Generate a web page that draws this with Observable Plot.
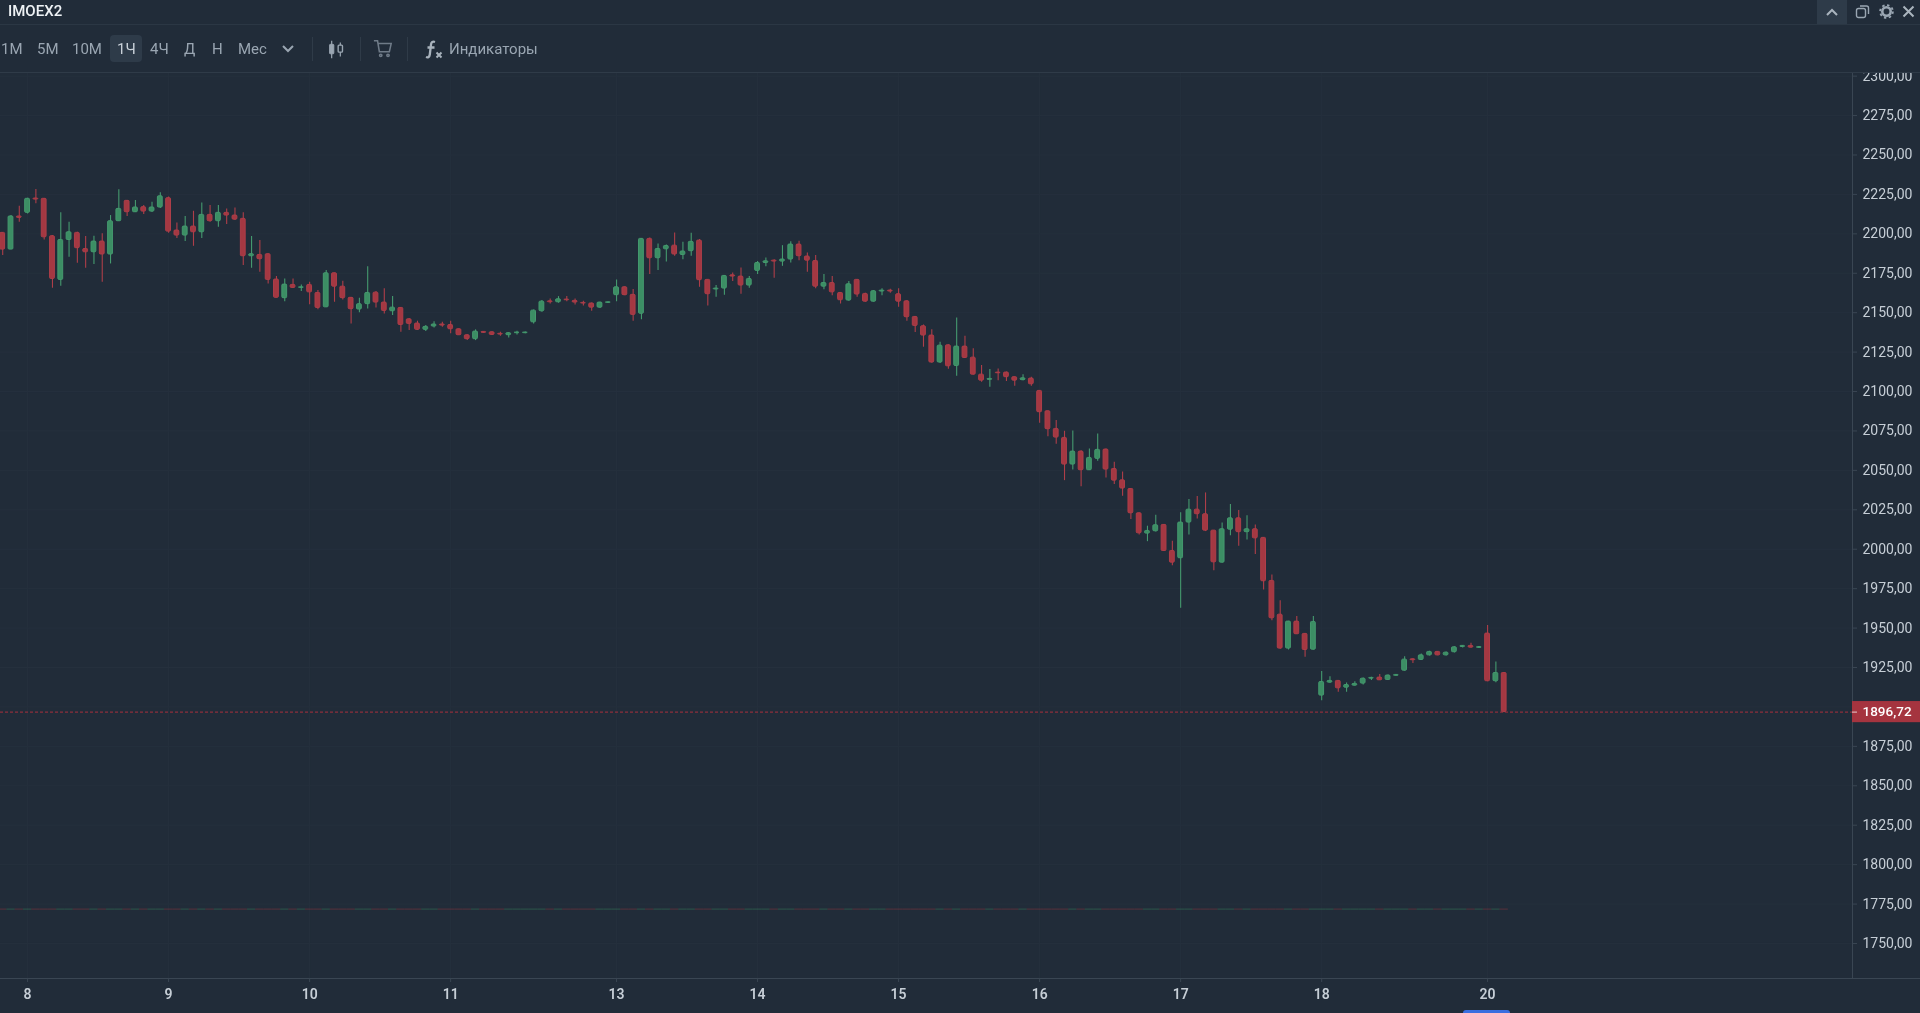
<!DOCTYPE html>
<html lang="ru">
<head>
<meta charset="utf-8">
<title>IMOEX2</title>
<script src="https://cdn.jsdelivr.net/npm/d3@7"></script>
<script src="https://cdn.jsdelivr.net/npm/@observablehq/plot@0.6"></script>
<style>
  html, body { margin: 0; padding: 0; width: 1920px; height: 1013px; overflow: hidden; background: #212c39; font-family: Roboto, sans-serif; }
  #head { position: absolute; left: 0; top: 0; width: 1920px; height: 73px; background: #212c39; z-index: 5; border-bottom: 1px solid #2f3b48; box-sizing: border-box; filter: blur(0.35px); }
  #head .line { position: absolute; left: 0; top: 24px; width: 1920px; height: 1px; background: #2b3744; }
  #head span, #head svg, #head div.b { position: absolute; }
  .title { left: 8px; top: 1px; font-size: 15px; line-height: 20px; font-weight: 500; color: #eef2f5; }
  .tf { top: 39px; line-height: 20px; font-size: 15px; color: #9aa6b2; }
  .sep { position: absolute; top: 37px; width: 1px; height: 24px; background: #2f3b48; }
  #chart { position: absolute; left: 0; top: 72px; width: 1920px; height: 941px; filter: blur(0.35px); }
  #pill { position: absolute; left: 1463px; top: 1010px; width: 47px; height: 3px; background: #3a6ee0; border-radius: 4px 4px 0 0; z-index: 6; }
</style>
</head>
<body>
<div id="head">
  <div class="line"></div>
  <span class="title">IMOEX2</span>
  <div class="b" style="left:1817px;top:0;width:30px;height:24px;background:#2e3b49;"></div>
  <svg style="left:1824px;top:6px" width="16" height="12" viewBox="0 0 16 12"><path d="M3 9 L8 4 L13 9" fill="none" stroke="#aab4be" stroke-width="2"/></svg>
  <svg style="left:1855px;top:4px" width="15" height="15" viewBox="0 0 15 15" fill="none" stroke="#9aa6b2" stroke-width="1.4"><rect x="1.5" y="4.5" width="9" height="9" rx="2"/><path d="M5 2 H11.5 Q13.5 2 13.5 4 V10"/></svg>
  <svg style="left:1879px;top:4px" width="15" height="15" viewBox="0 0 15 15"><circle cx="7.5" cy="7.5" r="4.2" fill="none" stroke="#9aa6b2" stroke-width="2.6"/><circle cx="7.5" cy="7.5" r="6.4" fill="none" stroke="#9aa6b2" stroke-width="1.8" stroke-dasharray="2.4 2.6"/></svg>
  <svg style="left:1902px;top:5px" width="13" height="13" viewBox="0 0 13 13"><path d="M1.5 1.5 L11.5 11.5 M11.5 1.5 L1.5 11.5" stroke="#aab4be" stroke-width="2"/></svg>

  <span class="tf" style="left:1px">1М</span>
  <span class="tf" style="left:37px">5М</span>
  <span class="tf" style="left:72px">10М</span>
  <div class="b" style="left:110px;top:35px;width:32px;height:27px;background:#2e3b49;border-radius:4px;"></div>
  <span class="tf" style="left:117px;color:#c8d0d8">1Ч</span>
  <span class="tf" style="left:150px">4Ч</span>
  <span class="tf" style="left:184px">Д</span>
  <span class="tf" style="left:212px">Н</span>
  <span class="tf" style="left:238px">Мес</span>
  <svg style="left:281px;top:43px" width="14" height="12" viewBox="0 0 14 12"><path d="M2 3 L7 8 L12 3" fill="none" stroke="#9aa6b2" stroke-width="2"/></svg>
  <div class="sep" style="left:312px"></div>
  <svg style="left:327px;top:40px" width="18" height="19" viewBox="0 0 20 22" fill="#9aa6b2" stroke="#9aa6b2"><path d="M5 1 V21 M15 3 V19" stroke-width="1.4"/><rect x="2.5" y="5" width="5" height="11" rx="1"/><rect x="12.5" y="6" width="5" height="8" rx="1" fill="#212c39" stroke-width="1.6"/></svg>
  <div class="sep" style="left:360px"></div>
  <svg style="left:373px;top:39px" width="20" height="20" viewBox="0 0 22 22" fill="none" stroke="#6f7b88" stroke-width="1.7"><path d="M1 2 H5 L7 14 H18 L20 5 H6"/><circle cx="8.5" cy="18" r="1.3"/><circle cx="16.5" cy="18" r="1.3"/></svg>
  <div class="sep" style="left:407px"></div>
  <svg style="left:424px;top:40px" width="19" height="19" viewBox="0 0 19 19" fill="none" stroke="#a8b2bc" stroke-width="2.3"><path d="M11 2 Q7.5 0.8 7 4.5 L5.8 14.5 Q5.3 18.2 2 17 M3.5 7.5 H10.5"/><path d="M12.5 12.5 L17.5 17.5 M17.5 12.5 L12.5 17.5" stroke-width="2"/></svg>
  <span class="tf" style="left:449px;">Индикаторы</span>
</div>
<div id="chart"></div>
<div id="pill"></div>
<script>
const open = [
  2200.6,2190.0,2211.0,2213.3,2222.4,2222.2,2198.5,2170.8,2196.1,2200.6,
  2190.4,2188.3,2195.1,2186.9,2208.0,2220.9,2213.7,2216.9,2214.1,2216.7,
  2222.6,2202.1,2198.9,2204.6,2201.0,2212.0,2208.0,2213.3,2211.6,2209.5,
  2185.8,2186.6,2187.1,2171.0,2159.2,2167.6,2165.7,2167.6,2162.5,2153.4,
  2175.0,2166.5,2159.4,2152.0,2155.4,2162.7,2156.4,2150.9,2153.0,2145.8,
  2143.1,2139.1,2141.2,2142.5,2142.2,2139.5,2135.7,2133.2,2137.8,2137.6,
  2136.6,2135.7,2137.0,2137.0,2143.9,2150.9,2157.2,2156.6,2158.3,2157.5,
  2156.2,2155.8,2153.2,2156.2,2161.1,2166.1,2161.3,2149.3,2196.8,2184.5,
  2190.2,2192.5,2186.6,2189.0,2195.7,2170.8,2164.7,2165.3,2173.7,2172.9,
  2167.2,2176.5,2181.5,2183.0,2182.4,2183.7,2193.2,2185.6,2182.8,2166.5,
  2168.8,2162.5,2157.7,2170.8,2161.9,2157.0,2163.4,2164.0,2161.7,2157.2,
  2147.3,2141.4,2135.5,2118.4,2129.3,2116.2,2128.5,2121.5,2110.7,2107.4,
  2112.0,2112.0,2109.1,2107.2,2108.2,2100.4,2087.5,2076.3,2070.6,2053.7,
  2061.9,2050.1,2057.3,2063.2,2050.9,2043.7,2038.2,2022.8,2009.9,2011.4,
  2015.4,1998.9,1994.3,2016.9,2025.1,2022.2,2011.8,1991.5,2012.4,2019.6,
  2010.8,2012.7,2007.2,1979.9,1958.5,1937.0,1954.1,1946.3,1936.3,1907.2,
  1915.4,1916.5,1912.2,1913.5,1914.8,1917.9,1918.6,1917.1,1919.7,1923.0,
  1930.2,1929.8,1932.7,1934.9,1932.7,1934.7,1938.0,1938.7,1937.4,1946.5,1916.3,1921.5
];
const close = [
  2190.0,2211.0,2210.1,2222.2,2221.7,2197.8,2171.4,2196.1,2201.0,2190.9,
  2188.3,2195.1,2186.9,2208.0,2215.8,2213.7,2216.7,2214.1,2216.7,2223.8,
  2201.4,2198.9,2204.6,2201.0,2212.0,2208.0,2213.3,2211.6,2209.0,2185.8,
  2187.1,2183.9,2170.8,2159.4,2167.8,2165.7,2166.1,2162.9,2153.0,2175.0,
  2166.5,2159.2,2152.2,2155.4,2162.5,2156.4,2151.1,2153.2,2142.2,2142.9,
  2139.1,2141.0,2142.5,2141.8,2139.5,2135.7,2133.2,2138.0,2137.2,2135.9,
  2136.1,2137.0,2137.4,2137.4,2151.3,2157.0,2156.6,2158.5,2157.9,2156.4,
  2155.8,2153.2,2156.4,2156.6,2166.1,2161.1,2148.6,2196.8,2184.5,2190.4,
  2192.3,2186.9,2188.8,2194.9,2170.6,2161.7,2165.3,2173.3,2172.9,2167.2,
  2171.4,2181.5,2182.6,2182.4,2183.7,2193.2,2185.8,2183.0,2166.5,2168.8,
  2162.9,2157.9,2168.0,2161.5,2157.0,2163.6,2164.0,2163.4,2157.0,2147.1,
  2141.6,2135.5,2118.4,2129.1,2116.0,2128.5,2121.3,2110.7,2106.9,2108.0,
  2111.6,2109.1,2106.9,2108.4,2104.6,2086.9,2076.1,2070.8,2053.7,2061.9,
  2050.1,2057.9,2063.0,2050.5,2043.5,2038.5,2022.8,2010.1,2011.6,2015.2,
  1998.9,1991.5,2016.9,2025.1,2022.2,2011.8,1991.7,2012.7,2019.6,2010.8,
  2012.7,2006.9,1979.7,1956.2,1937.0,1954.1,1946.1,1936.1,1953.9,1915.8,
  1916.5,1911.8,1913.9,1914.6,1917.9,1918.4,1916.9,1919.9,1920.3,1930.0,
  1929.6,1932.7,1934.9,1932.7,1934.4,1937.8,1938.7,1937.6,1938.0,1916.3,1921.5,1896.72
];
const high = [
  2200.6,2211.6,2217.5,2222.6,2228.1,2222.2,2198.9,2213.3,2207.4,2201.0,
  2198.3,2198.5,2200.0,2211.6,2227.9,2220.9,2221.1,2217.9,2220.0,2226.0,
  2223.4,2206.9,2211.0,2214.3,2219.6,2217.9,2217.9,2215.8,2216.4,2213.3,
  2198.3,2195.7,2187.1,2172.9,2171.4,2171.4,2167.6,2169.3,2164.0,2176.7,
  2175.0,2169.9,2159.4,2159.2,2179.2,2163.4,2165.1,2160.2,2153.0,2146.1,
  2144.6,2141.8,2144.2,2143.9,2144.6,2139.7,2135.9,2139.1,2137.8,2137.6,
  2137.6,2137.2,2138.2,2137.8,2151.7,2157.7,2158.7,2160.2,2160.2,2158.7,
  2157.2,2156.2,2156.6,2156.6,2170.8,2166.5,2164.7,2196.8,2197.4,2193.6,
  2192.9,2200.6,2194.7,2200.4,2196.4,2170.8,2167.2,2173.3,2175.2,2178.4,
  2172.9,2182.4,2184.7,2183.5,2192.5,2194.9,2195.3,2187.9,2186.2,2174.2,
  2172.9,2162.5,2169.7,2170.8,2162.3,2164.0,2165.1,2164.9,2165.1,2157.7,
  2147.3,2142.2,2139.1,2131.3,2129.7,2146.7,2135.1,2127.2,2116.5,2113.9,
  2114.3,2112.4,2109.1,2110.7,2109.1,2100.4,2087.5,2081.6,2074.8,2075.0,
  2062.5,2063.6,2073.1,2063.6,2055.2,2049.0,2038.2,2022.8,2014.6,2021.5,
  2015.4,2005.0,2023.2,2031.5,2033.4,2035.7,2011.8,2016.7,2028.3,2024.5,
  2021.3,2015.4,2007.2,1983.7,1967.4,1954.3,1957.3,1946.3,1957.3,1922.4,
  1919.2,1916.5,1915.2,1916.0,1918.4,1918.8,1920.5,1920.3,1920.3,1931.9,
  1930.6,1933.6,1935.3,1934.9,1934.9,1938.2,1938.9,1940.4,1938.0,1951.6,1928.5,1921.5
];
const low = [
  2186.2,2190.0,2207.4,2212.6,2219.0,2196.1,2165.5,2166.8,2185.2,2181.3,
  2178.2,2180.5,2169.3,2180.9,2208.0,2211.0,2213.5,2212.2,2213.5,2216.0,
  2200.4,2197.0,2195.1,2192.1,2197.0,2207.4,2204.2,2205.9,2208.4,2179.9,
  2178.2,2175.6,2168.2,2159.4,2157.0,2165.7,2163.4,2155.1,2151.8,2153.4,
  2156.6,2158.1,2142.9,2149.9,2152.4,2153.0,2149.2,2148.2,2137.6,2138.7,
  2138.7,2138.0,2140.3,2140.8,2136.6,2135.7,2132.3,2132.3,2136.8,2135.5,
  2135.1,2134.0,2135.9,2136.6,2142.9,2150.3,2155.5,2156.0,2157.0,2154.9,
  2154.3,2150.9,2152.6,2156.2,2157.0,2160.8,2144.6,2145.5,2174.2,2176.7,
  2182.2,2185.8,2183.5,2185.8,2166.1,2154.3,2159.8,2161.1,2169.7,2161.7,
  2165.5,2174.2,2179.2,2171.9,2179.4,2181.5,2183.0,2175.6,2165.1,2164.5,
  2160.8,2155.5,2157.3,2159.8,2156.6,2156.6,2160.8,2162.3,2153.4,2144.6,
  2137.4,2128.1,2118.0,2117.7,2114.1,2109.7,2121.1,2110.5,2105.9,2102.7,
  2106.9,2106.3,2103.4,2106.9,2103.4,2079.9,2071.4,2066.6,2043.5,2050.3,
  2039.7,2049.9,2055.8,2045.2,2041.0,2033.6,2018.8,2009.1,2004.8,2011.0,
  1998.5,1989.6,1962.6,2009.1,2019.2,2011.2,1986.4,1991.3,2008.6,2001.9,
  2005.9,1996.6,1974.2,1954.7,1936.6,1936.1,1945.9,1931.5,1936.1,1904.0,
  1915.0,1909.3,1909.3,1913.3,1913.9,1916.7,1916.7,1916.9,1919.7,1922.6,
  1927.5,1929.4,1932.3,1932.5,1932.3,1934.2,1937.4,1937.4,1937.4,1916.0,1915.4,1896.72
];
const dayLabels = ["8","9","10","11","13","14","15","16","17","18","20"];
const dayCandle = [3,20,37,54,74,91,108,125,142,159,179];
const priceTicks = d3.range(1750, 2301, 25);
const labelledTicks = priceTicks.filter(d => d !== 1900);
const lastPrice = 1896.72;
const volumeLevel = 1771.5;

const candles = open.map((o, i) => ({i, o, c: close[i], h: high[i], l: low[i], up: close[i] >= o}));
const comma = d => d.toFixed(2).replace(".", ",");
const red = "#a43842", green = "#3c8e64", redEdge = "#ae3e49", greenEdge = "#459a6f";
const xMin = -0.265, xMax = 222.99, xEdge = 231.2, yMin = 1727.8, yMax = 2302.3;
const axisColor = "#3a4653", gridColor = "#25303d", labelColor = "#c6ced6";
const font = "Roboto, sans-serif";

const chart = Plot.plot({
  width: 1920, height: 941,
  marginLeft: 0, marginRight: 68, marginTop: 0, marginBottom: 35,
  style: {background: "transparent", fontFamily: font, overflow: "hidden"},
  x: {type: "linear", domain: [xMin, xMax], axis: null},
  y: {type: "linear", domain: [yMin, yMax], axis: null},
  marks: [
    Plot.ruleX(dayCandle, {stroke: gridColor, strokeWidth: 1}),
    Plot.ruleY(priceTicks, {stroke: gridColor, strokeWidth: 1}),
    Plot.ruleY([yMin], {x1: xMin, x2: xEdge, stroke: axisColor}),
    Plot.ruleX([xMax], {stroke: axisColor}),
    Plot.axisY(labelledTicks, {anchor: "right", label: null, tickSize: 4, tickPadding: 6, stroke: axisColor, fill: labelColor, fontSize: 14, tickFormat: comma}),
    Plot.axisX(dayCandle, {anchor: "bottom", label: null, tickSize: 4, tickPadding: 7, stroke: axisColor, fill: labelColor, fontSize: 14, fontWeight: 600, tickFormat: i => dayLabels[dayCandle.indexOf(i)]}),
    Plot.rect(candles, {x1: d => d.i - 0.5, x2: d => d.i + 0.5, y1: volumeLevel - 0.3, y2: volumeLevel + 0.3, fill: d => d.up ? green : red, fillOpacity: 0.45}),
    Plot.ruleY([lastPrice], {stroke: "#a8303c", strokeWidth: 1, strokeDasharray: "3 2"}),
    Plot.ruleX(candles, {x: "i", y1: "l", y2: "h", strokeWidth: 1.1, stroke: d => d.up ? greenEdge : redEdge}),
    Plot.rect(candles, {x1: d => d.i - 0.29, x2: d => d.i + 0.29, y1: d => Math.min(d.o, d.c), y2: d => Math.max(d.o, d.c), fill: d => d.up ? green : red, stroke: d => d.up ? greenEdge : redEdge, strokeWidth: 1, rx: 1}),
    Plot.rect([lastPrice], {x1: xMax, x2: xEdge, y1: d => d - 6.7, y2: d => d + 6.7, fill: "#a5343f"}),
    Plot.ruleY([lastPrice], {x1: xMax, x2: xMax + 0.6, stroke: "#e6cdd0"}),
    Plot.text([lastPrice], {x: xMax, y: d => d, dx: 10, text: comma, textAnchor: "start", fill: "#ffffff", fontSize: 13.5, fontWeight: 500})
  ]
});
document.getElementById("chart").appendChild(chart);
</script>
</body>
</html>
